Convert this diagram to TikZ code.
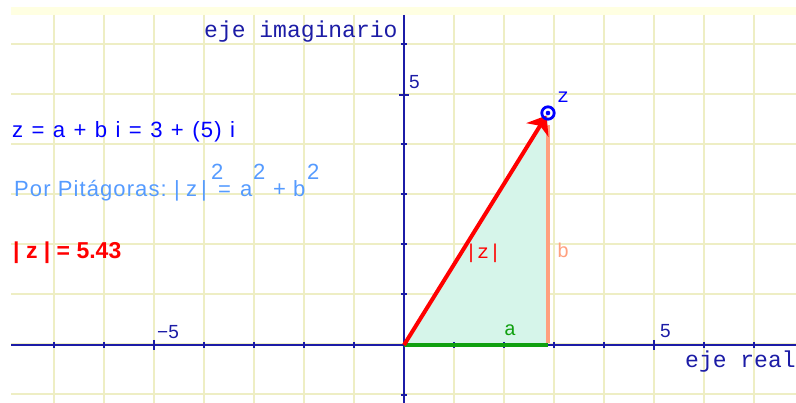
\documentclass[tikz,border=0pt]{standalone}
\usepackage{fontspec}
\setmainfont{Liberation Sans}
\newfontfamily\monof{Liberation Mono}
\newfontfamily\guif[LetterSpace=5]{Liberation Sans}
\newfontfamily\guifw[LetterSpace=5.3,WordSpace=1.15]{Liberation Sans}
\usetikzlibrary{arrows.meta}
\definecolor{gridc}{HTML}{EEEEC4}
\definecolor{bandc}{HTML}{FFFFE2}
\definecolor{axisc}{HTML}{1C1CA6}
\definecolor{fillc}{HTML}{D6F5EA}
\definecolor{zred}{HTML}{FF0000}
\definecolor{bcol}{HTML}{FFA07E}
\definecolor{acol}{HTML}{10A010}
\definecolor{zblue}{HTML}{0000FF}
\definecolor{pitc}{HTML}{559BFF}
\begin{document}
\begin{tikzpicture}[x=1pt,y=-1pt,
  lbl/.style={inner sep=0pt, anchor=base west},
  monobig/.style={lbl, font=\monof\fontsize{23}{26}\selectfont},
  monosm/.style={lbl, font=\monof\fontsize{20}{24}\selectfont},
  numl/.style={lbl, text=axisc, font=\fontsize{19}{22}\selectfont},
  gui/.style={lbl, font=\guif\fontsize{22}{26}\selectfont},
  guiw/.style={lbl, font=\guifw\fontsize{22.1}{26}\selectfont},
  gridline/.style={gridc, line width=2pt},
  axisline/.style={axisc, line width=1.6pt},
  tickline/.style={axisc, line width=1.4pt},
  zvec/.style={zred, line width=4pt, -{Stealth[length=17pt,width=26pt,inset=5pt]}, shorten >=3pt},
  aseg/.style={acol, line width=3.5pt},
  bseg/.style={bcol, line width=3.5pt},
  zpoint/.style={zblue, line width=2.8pt}]
\useasboundingbox (0,0) rectangle (796,403);
\fill[white] (0,0) rectangle (796,403);
\fill[bandc] (11,7) rectangle (796,15);
\foreach \x in {54,104,...,754} \draw[gridline] (\x,15) -- (\x,403);
\foreach \y in {44,94,...,394} \draw[gridline] (11,\y) -- (796,\y);
% key points
\coordinate (O) at (404,345);
\coordinate (A) at (548,345);
\coordinate (Z) at (548,113);
\coordinate (xl) at (11,345);
\coordinate (xr) at (796,345);
\coordinate (yt) at (404,15);
\coordinate (yb) at (404,403);
% triangle
\fill[fillc] (O) -- (A) -- (Z) -- cycle;
% axes
\draw[axisline] (xl) -- (xr);
\draw[axisline] (yt) -- (yb);
\foreach \x in {54,104,204,254,304,354,454,504,554,604,704,754} \draw[tickline] (\x,342) -- (\x,348);
\foreach \x in {154,654} \draw[tickline] (\x,340) -- (\x,350);
\foreach \y in {44,144,194,244,294,395} \draw[tickline] (401,\y) -- (407,\y);
\draw[tickline] (399,95) -- (409,95);
% labels of axes
\node[monobig, text=axisc] (ejeim) at (204,38) {eje imaginario};
\node[monobig, text=axisc] (ejere) at (685,368) {eje real};
\node[numl] (y5) at (409,89) {5};
\node[numl] (x5) at (660,338) {5};
\node[numl] (xm5) at (157,339) {−5};
% segments
\draw[aseg] (O) -- (A);
\coordinate (Btop) at (548,125);
\draw[bseg] ([yshift=2pt]A) -- (Btop);
\draw[zvec] (O) -- (Z);
\draw[zpoint] (Z) circle (6.2pt);
\fill[zblue] (Z) circle (2.3pt);
% labels inside
\node[monosm, text=zred] (zlab) at (465,259) {|z|};
\node[monosm, text=bcol] (blab) at (557,258) {b};
\node[monosm, text=acol] (alab) at (504,336) {a};
\node[monosm, text=zblue] (zname) at (557,103) {z};
% formulas
\node[guiw, text=zblue] (f1) at (12,138) {z = a + b i = 3 + (5) i};
\node[gui, text=pitc] (f2) at (14,197) {Por Pitágoras:};
\node[gui, text=pitc] (f2bar1) at (174,197) {|};
\node[gui, text=pitc] (f2z) at (186,197) {z};
\node[gui, text=pitc] (f2bar2) at (201,197) {|};
\node[gui, text=pitc] (f2eq) at (218,197) {=};
\node[gui, text=pitc] (f2a) at (240,197) {a};
\node[gui, text=pitc] (f2p) at (273,197) {+};
\node[gui, text=pitc] (f2b) at (293,197) {b};
\node[gui, text=pitc] (s1) at (211,180) {2};
\node[gui, text=pitc] (s2) at (253,180) {2};
\node[gui, text=pitc] (s3) at (307,180) {2};
\node[lbl, text=zred, font=\bfseries\fontsize{23}{27}\selectfont] (f3) at (13,259) {| z | = 5.43};
\end{tikzpicture}
\end{document}
